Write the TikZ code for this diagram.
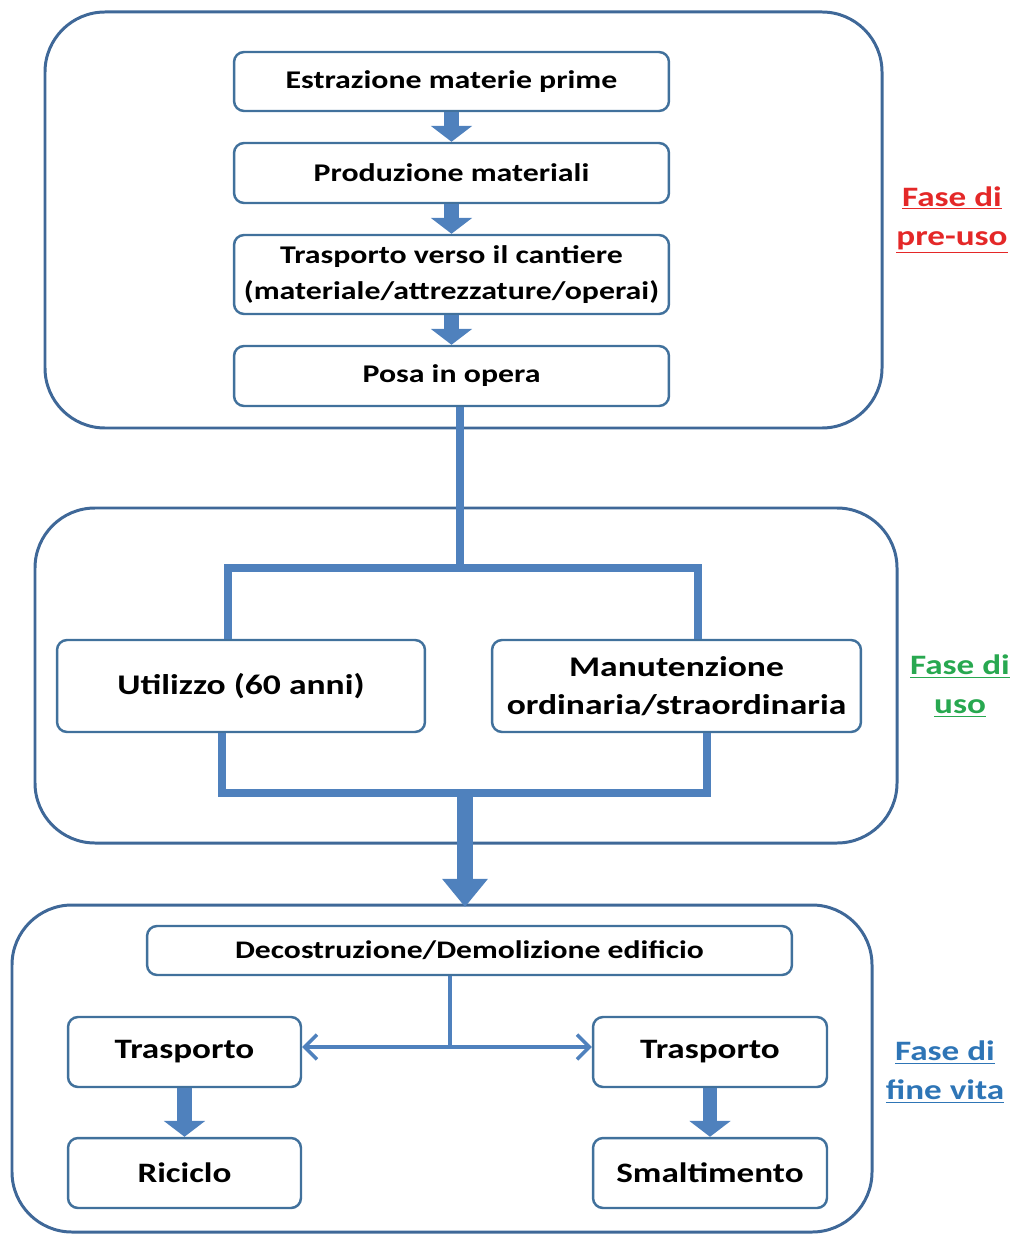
\documentclass[tikz,border=0pt]{standalone}
\usepackage{fontspec}
\setmainfont[FakeStretch=1.25]{Carlito}
\usepackage{tikz}
\usetikzlibrary{arrows.meta}
\usepackage{xcolor}
\definecolor{framecol}{RGB}{63,104,152}
\definecolor{boxcol}{RGB}{65,113,156}
\definecolor{arrowcol}{RGB}{79,129,189}
\definecolor{prered}{RGB}{228,40,40}
\definecolor{usegreen}{RGB}{40,168,80}
\definecolor{endblue}{RGB}{46,117,182}

\begin{document}
\begin{tikzpicture}[x=0.02cm, y=-0.02cm,
    phase/.style = {draw=framecol, line width=1.7pt, rounded corners=1.2cm},
    stepbox/.style = {draw=boxcol, line width=1.4pt, fill=white, rounded corners=0.2cm,
        align=center, inner sep=0pt, font=\bfseries\fontsize{14.5}{20}\selectfont},
    usebox/.style = {stepbox, font=\bfseries\fontsize{16.2}{22}\selectfont},
    endbox/.style = {stepbox, font=\bfseries\fontsize{16}{20}\selectfont},
    blockarrow/.style = {draw=arrowcol, line width=8pt, -{Triangle[width=23pt,length=9pt]}},
    bigarrow/.style = {draw=arrowcol, line width=9pt, -{Triangle[width=25pt,length=16pt]}},
    link/.style = {draw=arrowcol, line width=4pt},
    thinarrow/.style = {draw=arrowcol, line width=2pt, -{Straight Barb[width=14pt,length=7pt]}},
    phaselabel/.style = {align=center, font=\bfseries\fontsize{16}{22.5}\selectfont}]
    \useasboundingbox (0,0) rectangle (1015,1236);

    % Phase frames
    \draw[phase] (45,12) rectangle (882,428);
    \draw[phase] (35,508) rectangle (897,843);
    \draw[phase] (12,905) rectangle (872,1232);

    % Pre-use steps
    \node[stepbox, minimum width=8.7cm, minimum height=1.18cm] (estr) at (451.5,81.5) {Estrazione materie prime};
    \node[stepbox, minimum width=8.7cm, minimum height=1.2cm] (prod) at (451.5,173) {Produzione materiali};
    \node[stepbox, minimum width=8.7cm, minimum height=1.58cm] (trasp) at (451.5,274.5) {Trasporto verso il cantiere\\(materiale/attrezzature/operai)};
    \node[stepbox, minimum width=8.7cm, minimum height=1.2cm] (posa) at (451.5,376) {Posa in opera};

    % Use steps
    \node[usebox, minimum width=7.36cm, minimum height=1.84cm] (util) at (241,686) {Utilizzo (60 anni)};
    \node[usebox, minimum width=7.38cm, minimum height=1.84cm] (manut) at (676.5,686) {Manutenzione\\ordinaria/straordinaria};

    % End of life steps
    \node[endbox, font=\bfseries\fontsize{14.4}{20}\selectfont, minimum width=12.9cm, minimum height=0.98cm] (decos) at (469.5,950.5) {Decostruzione/Demolizione edificio};
    \node[endbox, minimum width=4.66cm, minimum height=1.4cm] (traspL) at (184.5,1052) {Trasporto};
    \node[endbox, minimum width=4.68cm, minimum height=1.4cm] (traspR) at (710,1052) {Trasporto};
    \node[endbox, minimum width=4.66cm, minimum height=1.4cm] (ricic) at (184.5,1173) {Riciclo};
    \node[endbox, minimum width=4.68cm, minimum height=1.4cm] (smalt) at (710,1173) {Smaltimento};

    % Phase labels
    \node[phaselabel, text=prered] (lpre) at (952,220) {\underline{Fase di}\\\underline{pre-uso}};
    \node[phaselabel, text=usegreen] (luso) at (960,686) {\underline{Fase di}\\\underline{uso}};
    \node[phaselabel, text=endblue] (lfine) at (945,1072) {\underline{Fase di}\\\underline{fine vita}};

    % Junction points
    \coordinate (split) at (460,568);
    \coordinate (barL) at (228,568);
    \coordinate (barR) at (698,568);
    \coordinate (joinL) at (222,793);
    \coordinate (joinR) at (707,793);
    \coordinate (merge) at (465,793);
    \coordinate (endin) at (465,907);
    \coordinate (fork) at (450,1047);

    % Arrows pre-use
    \draw[blockarrow] (estr.south) -- (prod.north);
    \draw[blockarrow] (prod.south) -- (trasp.north);
    \draw[blockarrow] (trasp.south) -- (posa.north);

    % Lines use phase
    \draw[link] (posa.south -| split) -- (split);
    \draw[link] (barL |- util.north) -- (barL) -- (barR) -- (barR |- manut.north);
    \draw[link] (util.south -| joinL) -- (joinL) -- (joinR) -- (manut.south -| joinR);
    \draw[bigarrow] (merge) -- (endin);

    % Arrows end of life
    \draw[draw=arrowcol, line width=2pt] (decos.south -| fork) -- (fork);
    \draw[thinarrow] (fork) -- (traspL.east |- fork);
    \draw[thinarrow] (fork) -- (traspR.west |- fork);
    \draw[blockarrow] (traspL.south) -- (ricic.north);
    \draw[blockarrow] (traspR.south) -- (smalt.north);
\end{tikzpicture}
\end{document}
